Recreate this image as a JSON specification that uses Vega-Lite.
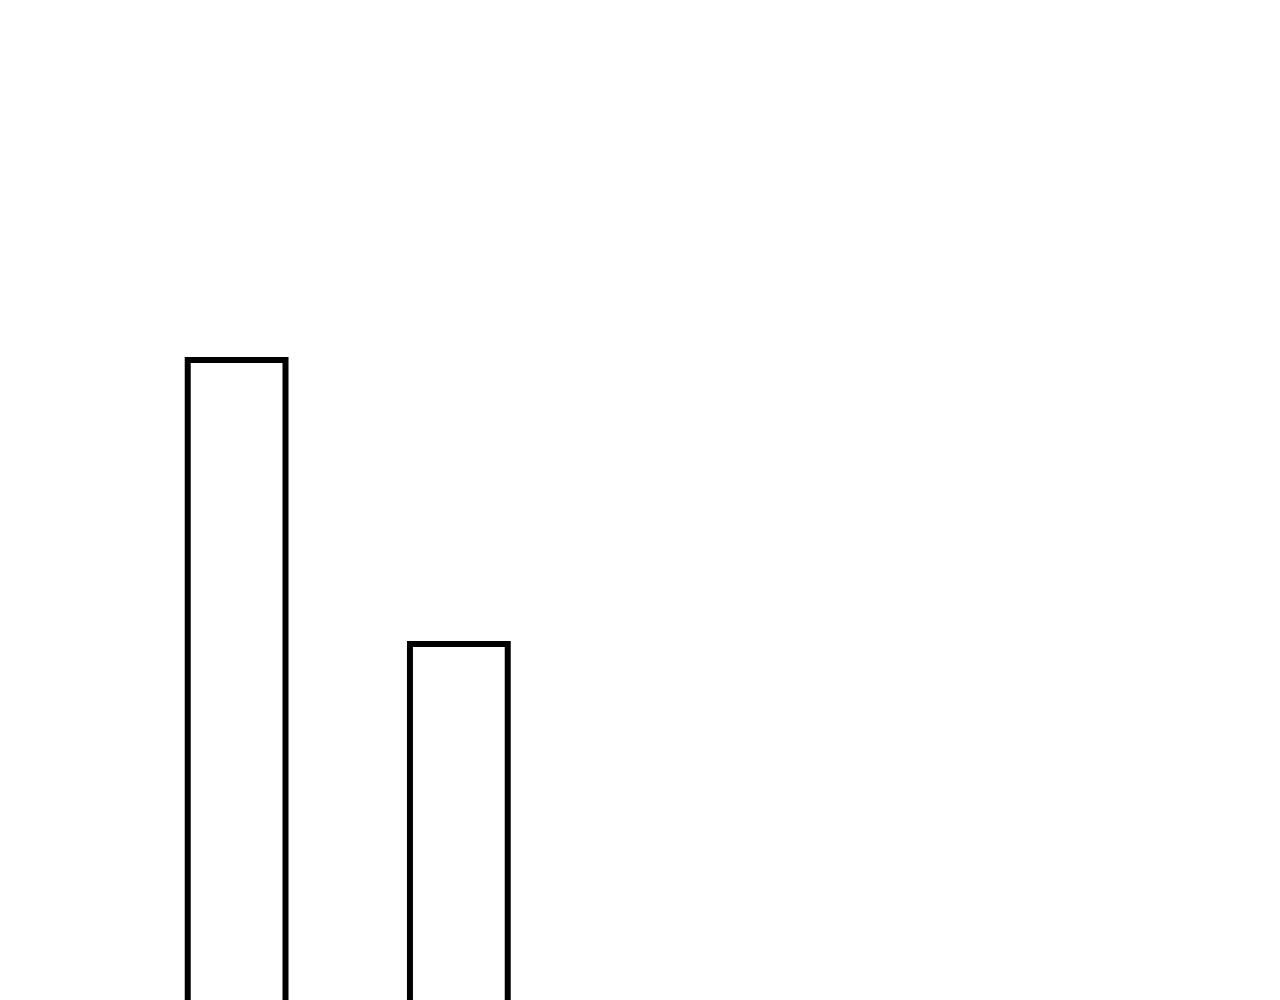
{
  "$schema": "https://vega.github.io/schema/vega-lite/v6.json",
  "autosize": {"type": "fit", "contains": "padding"},
  "width": 1280,
  "height": 1000,
  "padding": 0,
  "background": "white",
  "view": {"stroke": null},
  "data": {
    "values": [
      {"cat": "A", "value": 64},
      {"cat": "B", "value": 35.6}
    ]
  },
  "mark": {"type": "bar", "fill": null, "fillOpacity": 0, "stroke": "black", "strokeWidth": 6, "clip": true},
  "encoding": {
    "x": {
      "field": "cat",
      "type": "nominal",
      "scale": {"domain": ["A", "B", "C", "D", "E"], "paddingInner": 0.56, "paddingOuter": 0.66, "align": 0.64},
      "axis": null
    },
    "y": {
      "field": "value",
      "type": "quantitative",
      "scale": {"domain": [0, 100], "nice": false, "zero": false},
      "axis": null
    },
    "y2": {"datum": -5}
  }
}
